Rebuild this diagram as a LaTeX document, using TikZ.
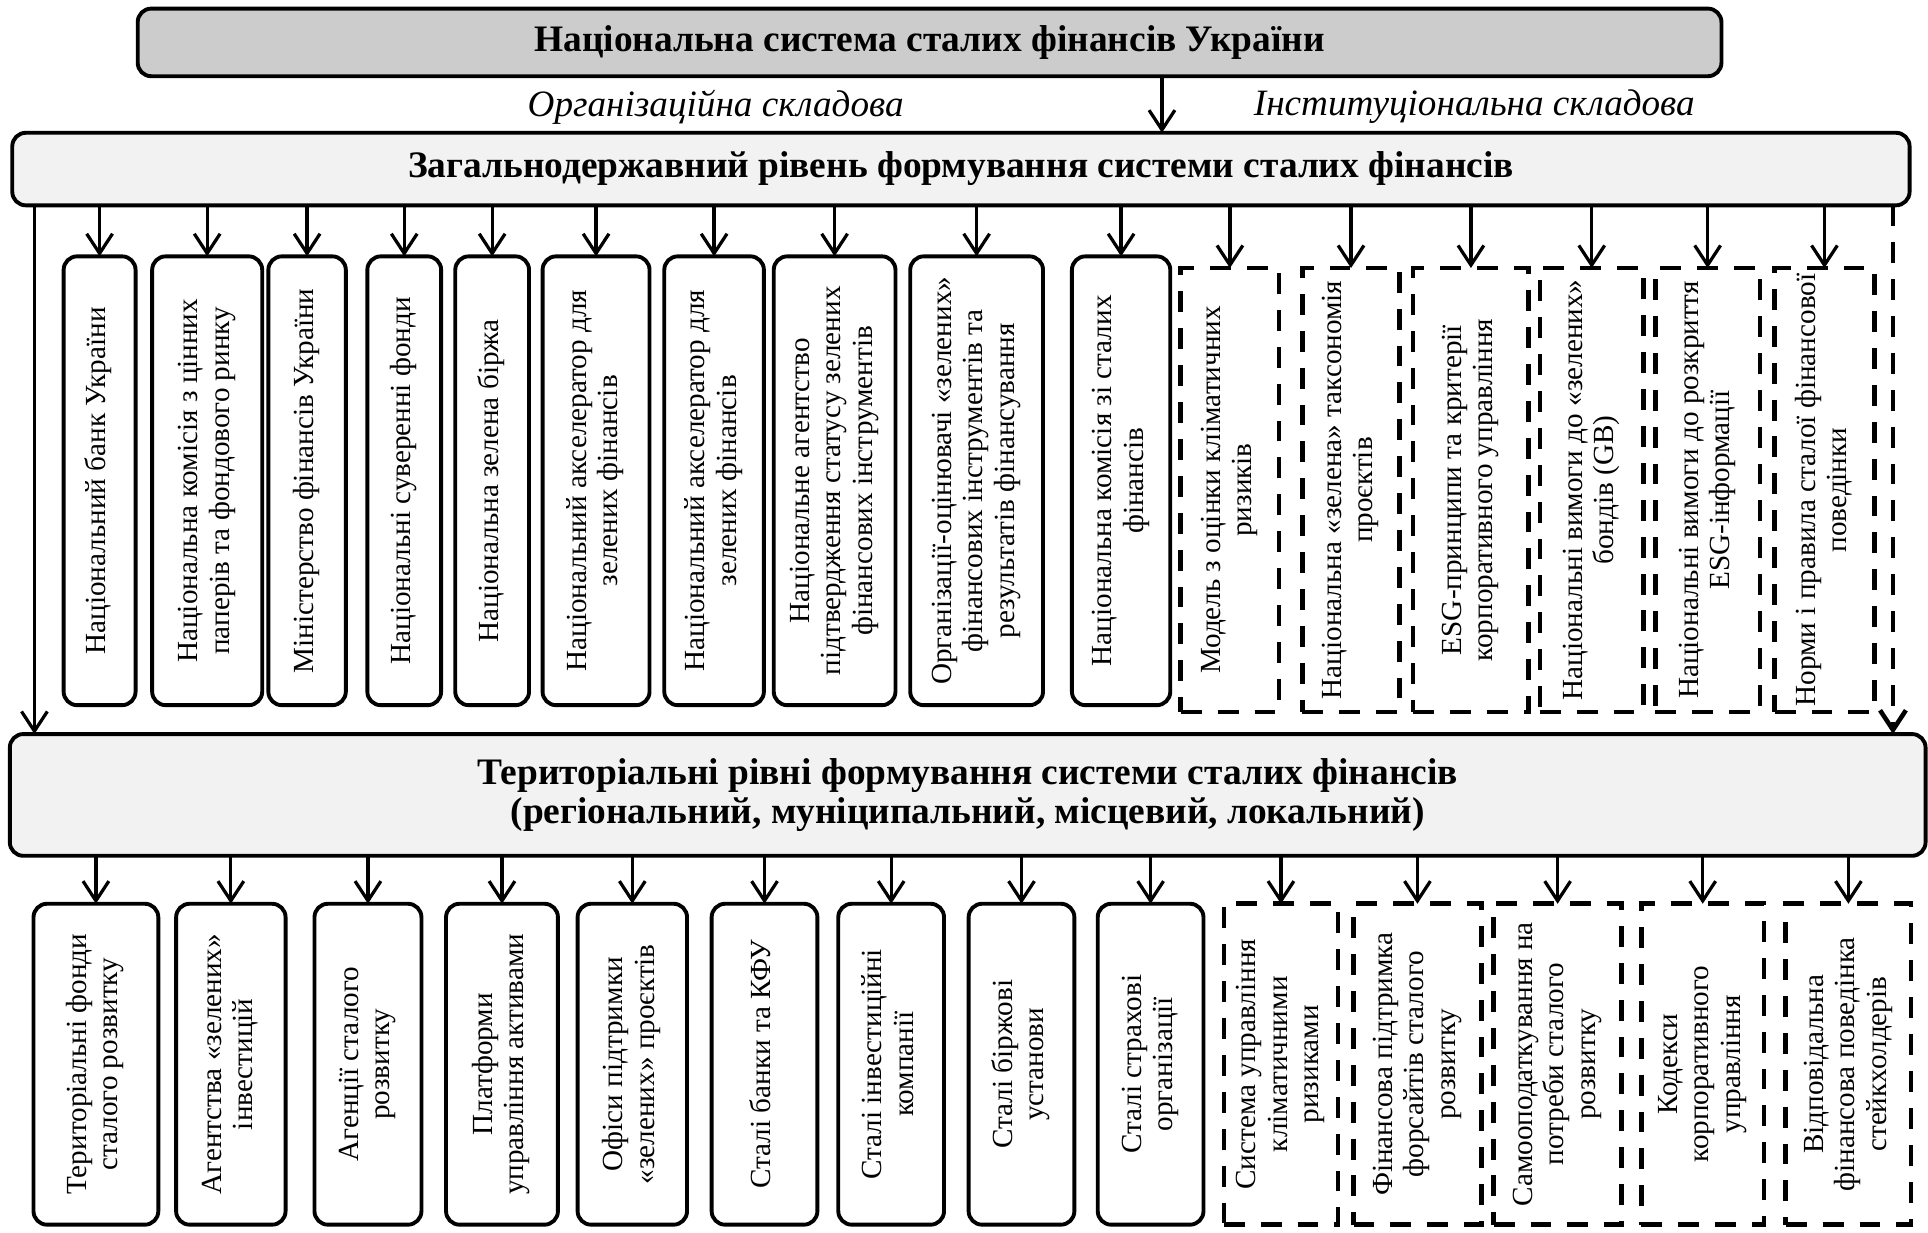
\documentclass[tikz,border=0pt]{standalone}
\usepackage{fontspec}
\setmainfont{Liberation Serif}
\usepackage{graphicx}
\usepackage{tikz}
\usetikzlibrary{arrows.meta,positioning}

\definecolor{topgray}{gray}{0.8}
\definecolor{levelgray}{gray}{0.95}
\newcommand{\vlabel}[1]{\rotatebox{90}{\begin{tabular}{@{}c@{}}#1\end{tabular}}}

\tikzset{
  levelbox/.style={draw, rounded corners=2.2mm, line width=1.8pt, outer sep=0pt, fill=levelgray, align=center, font=\bfseries\fontsize{17.3}{18}\selectfont},
  sidelabel/.style={font=\itshape\fontsize{17.2}{18}\selectfont},
  orgbox/.style={draw, rounded corners=2.2mm, line width=1.8pt, outer sep=0pt, fill=white, inner sep=0pt, minimum height=#1, font=\fontsize{13.5}{14.5}\selectfont},
  orgbox/.default=73mm,
  instbox/.style={draw, dash pattern=on 3.4mm off 2.6mm, line width=2.1pt, outer sep=0pt, fill=white, inner sep=0pt, minimum height=#1, font=\fontsize{13.5}{14.5}\selectfont},
  instbox/.default=72.2mm,
  link/.style={-{Straight Barb[length=3.2mm,width=4.2mm]}, line width=1.5pt},
}

\begin{document}
\begin{tikzpicture}[x=0.2mm, y=-0.2mm]
        \useasboundingbox (0,0) rectangle (1568,1002);

        % Levels
        \node (natl) [levelbox, fill=topgray, minimum width=257.6mm, minimum height=11mm] at (756,34.5) {Національна система сталих фінансів України};
        \node (orglabel) [sidelabel] at (582,87) {Організаційна складова};
        \node (instlabel) [sidelabel] at (1199,87) {Інституціональна складова};
        \node (state) [levelbox, minimum width=308.6mm, minimum height=11.8mm] at (781.5,137.5) {Загальнодержавний рівень формування системи сталих фінансів};
        \node (terr) [levelbox, minimum width=311.6mm, minimum height=19.8mm] at (787,646.5) {Територіальні рівні формування системи сталих фінансів\\(регіональний, муніципальний, місцевий, локальний)};
        \coordinate (fork) at (945,0);
        \coordinate (leftbus) at (28,0);
        \coordinate (rightbus) at (1539.5,0);

        % State level: organisations
        \node (bank) [orgbox, minimum width=11.7mm] at (81,391) {\vlabel{Національний банк України}};
        \node (nssmc) [orgbox, right=2.7mm of bank, minimum width=17.9mm] {\vlabel{Національна комісія з цінних\\паперів та фондового ринку}};
        \node (minfin) [orgbox, right=1mm of nssmc, minimum width=12.6mm] {\vlabel{Міністерство фінансів України}};
        \node (sovfund) [orgbox, right=3.5mm of minfin, minimum width=12mm] {\vlabel{Національні суверенні фонди}};
        \node (greenex) [orgbox, right=2.3mm of sovfund, minimum width=12mm] {\vlabel{Національна зелена біржа}};
        \node (accel) [orgbox, right=2.2mm of greenex, minimum width=17.4mm] {\vlabel{Національний акселератор для\\зелених фінансів}};
        \node (accelb) [orgbox, right=2.4mm of accel, minimum width=16.2mm] {\vlabel{Національний акселератор для\\зелених фінансів}};
        \node (agency) [orgbox, right=1.6mm of accelb, minimum width=19.8mm] {\vlabel{Національне агентство\\підтвердження статусу зелених\\фінансових інструментів}};
        \node (raters) [orgbox, right=2.4mm of agency, minimum width=21.6mm] {\vlabel{Організації-оцінювачі «зелених»\\фінансових інструментів та\\результатів фінансування}};
        \node (commis) [orgbox, right=4.7mm of raters, minimum width=16mm] {\vlabel{Національна комісія зі сталих\\фінансів}};

        % State level: institutions
        \node (climmodel) [instbox, right=1.7mm of commis, yshift=-1.5mm, minimum width=16mm] {\vlabel{Модель з оцінки кліматичних\\ризиків}};
        \node (taxonomy) [instbox, right=3.8mm of climmodel, minimum width=15.8mm] {\vlabel{Національна «зелена» таксономія\\проєктів}};
        \node (esg) [instbox, right=2.2mm of taxonomy, minimum width=18.8mm] {\vlabel{ESG-принципи та критерії\\корпоративного управління}};
        \node (bonds) [instbox, right=1.8mm of esg, minimum width=16.9mm] {\vlabel{Національні вимоги до «зелених»\\бондів (GB)}};
        \node (disclose) [instbox, right=1.9mm of bonds, minimum width=17mm] {\vlabel{Національні вимоги до розкриття\\ESG-інформації}};
        \node (norms) [instbox, right=2.4mm of disclose, minimum width=16.2mm] {\vlabel{Норми і правила сталої фінансової\\поведінки}};

        % Territorial level: organisations
        \node (terrfund) [orgbox=52.2mm, minimum width=20.3mm] at (78,865.5) {\vlabel{Територіальні фонди\\сталого розвитку}};
        \node (greeninv) [orgbox=52.2mm, right=2.9mm of terrfund, minimum width=17.8mm] {\vlabel{Агентства «зелених»\\інвестицій}};
        \node (devagency) [orgbox=52.2mm, right=4.7mm of greeninv, minimum width=17.4mm] {\vlabel{Агенції сталого\\розвитку}};
        \node (assets) [orgbox=52.2mm, right=4mm of devagency, minimum width=18.2mm] {\vlabel{Платформи\\управління активами}};
        \node (offices) [orgbox=52.2mm, right=3.2mm of assets, minimum width=17.8mm] {\vlabel{Офіси підтримки\\«зелених» проєктів}};
        \node (banks) [orgbox=52.2mm, right=4mm of offices, minimum width=17.2mm] {\vlabel{Сталі банки та КФУ}};
        \node (invest) [orgbox=52.2mm, right=3.4mm of banks, minimum width=17.2mm] {\vlabel{Сталі інвестиційні\\компанії}};
        \node (exchange) [orgbox=52.2mm, right=4mm of invest, minimum width=17.2mm] {\vlabel{Сталі біржові\\установи}};
        \node (insure) [orgbox=52.2mm, right=3.8mm of exchange, minimum width=17.2mm] {\vlabel{Сталі страхові\\організації}};

        % Territorial level: institutions
        \node (climsys) [instbox=52.2mm, right=3.3mm of insure, minimum width=18.6mm] {\vlabel{Система управління\\кліматичними\\ризиками}};
        \node (foresight) [instbox=52.2mm, right=2.5mm of climsys, minimum width=20.8mm] {\vlabel{Фінансова підтримка\\форсайтів сталого\\розвитку}};
        \node (selftax) [instbox=52.2mm, right=2mm of foresight, minimum width=20.8mm] {\vlabel{Самооподаткування на\\потреби сталого\\розвитку}};
        \node (codes) [instbox=52.2mm, right=3.2mm of selftax, minimum width=20mm] {\vlabel{Кодекси\\корпоративного\\управління}};
        \node (stake) [instbox=52.2mm, right=3.5mm of codes, minimum width=20.4mm] {\vlabel{Відповідальна\\фінансова поведінка\\стейкхолдерів}};

        % Arrows
        \draw [link] (natl.south -| fork) -- (state.north -| fork);
        \draw [link] (state.south -| leftbus) -- (terr.north -| leftbus);
        \draw [link, line width=2.1pt, dash pattern=on 3.4mm off 2.6mm] (state.south -| rightbus) -- (terr.north -| rightbus);
        \draw [link] (state.south -| bank) -- (bank.north);
        \draw [link] (state.south -| nssmc) -- (nssmc.north);
        \draw [link] (state.south -| minfin) -- (minfin.north);
        \draw [link] (state.south -| sovfund) -- (sovfund.north);
        \draw [link] (state.south -| greenex) -- (greenex.north);
        \draw [link] (state.south -| accel) -- (accel.north);
        \draw [link] (state.south -| accelb) -- (accelb.north);
        \draw [link] (state.south -| agency) -- (agency.north);
        \draw [link] (state.south -| raters) -- (raters.north);
        \draw [link] (state.south -| commis) -- (commis.north);
        \draw [link] (state.south -| climmodel) -- (climmodel.north);
        \draw [link] (state.south -| taxonomy) -- (taxonomy.north);
        \draw [link] (state.south -| esg) -- (esg.north);
        \draw [link] (state.south -| bonds) -- (bonds.north);
        \draw [link] (state.south -| disclose) -- (disclose.north);
        \draw [link] (state.south -| norms) -- (norms.north);
        \draw [link] (terr.south -| terrfund) -- (terrfund.north);
        \draw [link] (terr.south -| greeninv) -- (greeninv.north);
        \draw [link] (terr.south -| devagency) -- (devagency.north);
        \draw [link] (terr.south -| assets) -- (assets.north);
        \draw [link] (terr.south -| offices) -- (offices.north);
        \draw [link] (terr.south -| banks) -- (banks.north);
        \draw [link] (terr.south -| invest) -- (invest.north);
        \draw [link] (terr.south -| exchange) -- (exchange.north);
        \draw [link] (terr.south -| insure) -- (insure.north);
        \draw [link] (terr.south -| climsys) -- (climsys.north);
        \draw [link] (terr.south -| foresight) -- (foresight.north);
        \draw [link] (terr.south -| selftax) -- (selftax.north);
        \draw [link] (terr.south -| codes) -- (codes.north);
        \draw [link] (terr.south -| stake) -- (stake.north);
    \end{tikzpicture}
\end{document}
